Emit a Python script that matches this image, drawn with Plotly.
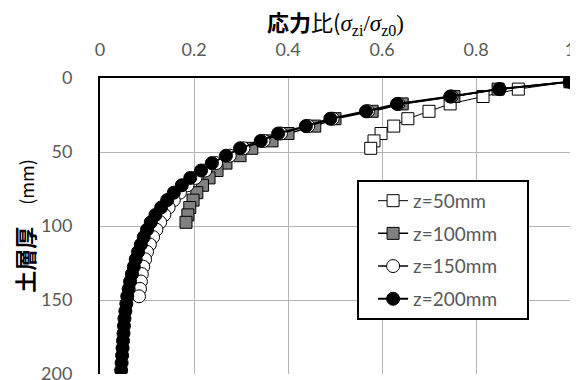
import plotly.graph_objects as go

# Depth (mm) of each measuring point
depth_z50 = [2.5, 7.5, 12.5, 17.5, 22.5, 27.5, 32.5, 37.5, 42.5, 47.5]
depth_z100 = [2.5, 7.5, 12.5, 17.5, 22.5, 27.5, 32.5, 37.5, 42.5, 47.5,
              52.5, 57.5, 62.5, 67.5, 72.5, 77.5, 82.5, 87.5, 92.5, 97.5]
depth_z150 = [2.5, 7.5, 12.5, 17.5, 22.5, 27.5, 32.5, 37.5, 42.5, 47.5,
              52.5, 57.5, 62.5, 67.5, 72.5, 77.5, 82.5, 87.5, 92.5, 97.5,
              102.5, 107.5, 112.5, 117.5, 122.5, 127.5, 132.5, 137.5, 142.5, 147.5]
depth_z200 = [2.5, 7.5, 12.5, 17.5, 22.5, 27.5, 32.5, 37.5, 42.5, 47.5,
              52.5, 57.5, 62.5, 67.5, 72.5, 77.5, 82.5, 87.5, 92.5, 97.5,
              102.5, 107.5, 112.5, 117.5, 122.5, 127.5, 132.5, 137.5, 142.5, 147.5,
              152.5, 157.5, 162.5, 167.5, 172.5, 177.5, 182.5, 187.5, 192.5, 197.5]

# Stress ratio sigma_zi / sigma_z0
ratio_z50 = [1.0, 0.89, 0.815, 0.745, 0.70, 0.655, 0.625, 0.598, 0.583, 0.576]
ratio_z100 = [1.0, 0.847, 0.753, 0.643, 0.579, 0.50, 0.457, 0.40, 0.366, 0.323,
              0.298, 0.268, 0.249, 0.232, 0.218, 0.206, 0.198, 0.191, 0.187, 0.183]
ratio_z150 = [1.0, 0.85, 0.748, 0.635, 0.57, 0.495, 0.443, 0.385, 0.348, 0.305,
              0.276, 0.247, 0.224, 0.203, 0.186, 0.17, 0.157, 0.146, 0.137, 0.128,
              0.12, 0.113, 0.106, 0.10, 0.096, 0.092, 0.089, 0.087, 0.085, 0.083]
ratio_z200 = [1.0, 0.85, 0.745, 0.632, 0.566, 0.49, 0.438, 0.379, 0.342, 0.298,
              0.268, 0.238, 0.215, 0.192, 0.174, 0.157, 0.143, 0.130, 0.118, 0.108,
              0.100, 0.093, 0.087, 0.081, 0.076, 0.072, 0.068, 0.064, 0.061, 0.058,
              0.056, 0.054, 0.052, 0.051, 0.050, 0.049, 0.048, 0.047, 0.046, 0.045]

series_names = ["z=50mm", "z=100mm", "z=150mm", "z=200mm"]

x_tickvals = [0, 0.2, 0.4, 0.6, 0.8, 1.0]
x_ticktext = ["0", "0.2", "0.4", "0.6", "0.8", "1"]
y_tickvals = [0, 50, 100, 150, 200]
y_ticktext = ["0", "50", "100", "150", "200"]

x_title = ("<b>応力</b>比(<span style='font-family:Liberation Serif;font-size:23px'>"
           "<i>σ</i><sub>zi</sub>/<i>σ</i><sub>z0</sub>)</span>")
y_title = "<b>土層厚</b>\u3000<span style='font-size:18px'>(mm)</span>"

TICK_FONT = dict(family="Lato, 'Noto Sans', sans-serif", size=18, color="#595959")
CJK = "'Noto Sans CJK JP', sans-serif"
PAD = "\u00a0" * 5

fig = go.Figure()

styles = [
    dict(symbol="square", size=12, color="white", line=dict(color="black", width=1), lw=1),
    dict(symbol="square", size=12, color="#808080", line=dict(color="black", width=1), lw=1.5),
    dict(symbol="circle", size=13, color="white", line=dict(color="black", width=1), lw=1.5),
    dict(symbol="circle", size=13, color="black", line=dict(color="black", width=1), lw=2),
]
data = [(depth_z50, ratio_z50), (depth_z100, ratio_z100),
        (depth_z150, ratio_z150), (depth_z200, ratio_z200)]

for i, ((d, r), st) in enumerate(zip(data, styles)):
    fig.add_trace(go.Scatter(
        x=r, y=d, mode="lines+markers", name=series_names[i] + PAD,
        legendgroup=f"g{i}",
        line=dict(color="black", width=st["lw"]),
        marker=dict(symbol=st["symbol"], size=st["size"], color=st["color"], line=st["line"]),
    ))

fig.update_xaxes(
    range=[0, 1], side="top", tickvals=x_tickvals, ticktext=x_ticktext,
    tickfont=TICK_FONT, showgrid=True, gridcolor="#b3b3b3", gridwidth=1,
    zeroline=False, showline=True, linecolor="black", linewidth=1.5,
    ticks="", ticklabelstandoff=13, ticklabeloverflow="allow",
)
fig.update_yaxes(
    range=[200, 0], tickvals=y_tickvals, ticktext=y_ticktext,
    tickfont=TICK_FONT, showgrid=True, gridcolor="#b3b3b3", gridwidth=1,
    zeroline=False, showline=True, linecolor="black", linewidth=2,
    ticks="", ticklabelstandoff=22, ticklabeloverflow="allow",
    title=dict(text=y_title, font=dict(family=CJK, size=22, color="black"), standoff=12),
)

fig.add_annotation(
    text=x_title, xref="paper", yref="paper", x=0.5, y=1.19,
    xanchor="center", yanchor="middle", showarrow=False,
    font=dict(family=CJK, size=22, color="black"),
)

fig.update_layout(
    width=570, height=372,
    margin=dict(l=92, r=8, t=70, b=6, autoexpand=False),
    paper_bgcolor="white", plot_bgcolor="white",
    legend=dict(
        x=0.547, y=0.656, xanchor="left", yanchor="top",
        bgcolor="white", bordercolor="black", borderwidth=2,
        font=dict(family="Lato, 'Noto Sans', sans-serif", size=19, color="#595959"),
        tracegroupgap=5, indentation=14,
    ),
)

fig.write_html("out.html")
